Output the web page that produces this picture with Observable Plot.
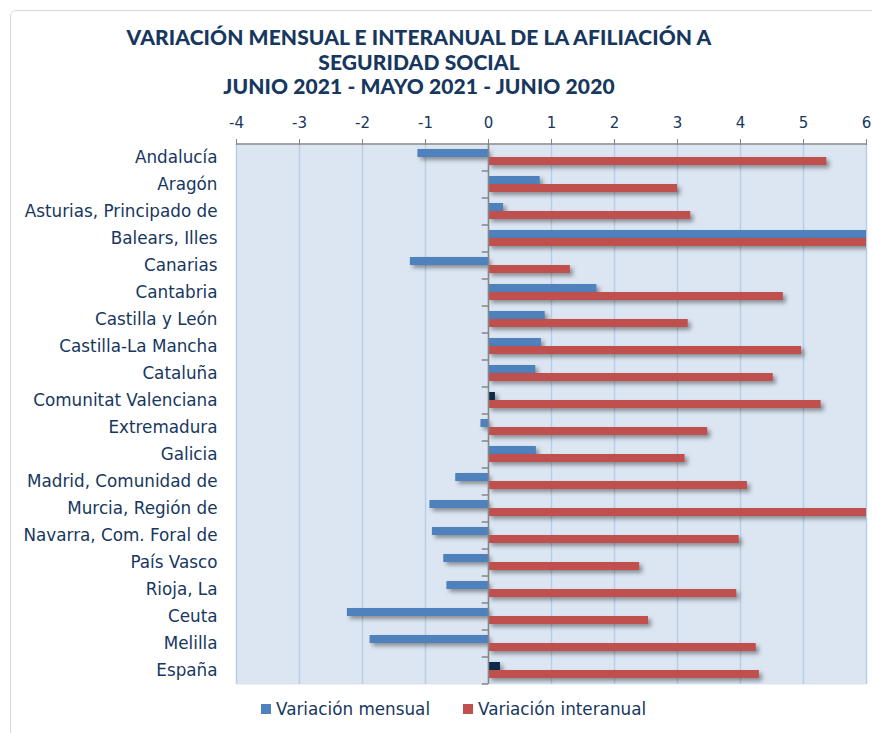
<!DOCTYPE html>
<html>
<head>
<meta charset="utf-8">
<script src="https://cdn.jsdelivr.net/npm/d3@7"></script>
<script src="https://cdn.jsdelivr.net/npm/@observablehq/plot@0.6"></script>
<style>
  html, body { margin: 0; padding: 0; background: #fff; }
  body { width: 872px; height: 733px; overflow: hidden; position: relative; font-family: "DejaVu Sans", sans-serif; }
  #frame { position: absolute; left: 10px; top: 10px; width: 900px; height: 800px; border: 1px solid #d9d9d9; border-radius: 6px; }
  #title { position: absolute; left: 0; top: 25px; width: 838px; text-align: center; font-family: Lato, "Open Sans", sans-serif; font-weight: 900; font-size: 21px; line-height: 24.5px; color: #17375e; letter-spacing: 0.1px; }
  #chart { position: absolute; left: 0; top: 100px; }
  #legend { position: absolute; left: 261px; top: 699px; display: flex; align-items: center; font-size: 16.8px; color: #17375e; white-space: nowrap; }
  #legend .sw { display: inline-block; width: 10px; height: 10px; margin-right: 5px; }
  #legend .item { display: flex; align-items: center; }
  g[aria-label="bar"] rect { filter: drop-shadow(3px 3px 2px rgba(0,0,0,0.38)); }
</style>
</head>
<body>
<div id="frame"></div>
<div id="title">VARIACIÓN MENSUAL E INTERANUAL DE LA AFILIACIÓN A<br>SEGURIDAD SOCIAL<br>JUNIO 2021 - MAYO 2021 - JUNIO 2020</div>
<div id="chart"></div>
<div id="legend">
  <span class="item"><span class="sw" style="background:#4f81bd"></span>Variación mensual</span>
  <span class="item" style="margin-left:33px"><span class="sw" style="background:#c0504d"></span>Variación interanual</span>
</div>
<script>
const categories = [
  "Andalucía", "Aragón", "Asturias, Principado de", "Balears, Illes", "Canarias",
  "Cantabria", "Castilla y León", "Castilla-La Mancha", "Cataluña", "Comunitat Valenciana",
  "Extremadura", "Galicia", "Madrid, Comunidad de", "Murcia, Región de", "Navarra, Com. Foral de",
  "País Vasco", "Rioja, La", "Ceuta", "Melilla", "España"
];
const mensual = [
  -1.12, 0.82, 0.24, 8.9, -1.24,
  1.72, 0.90, 0.84, 0.75, 0.11,
  -0.12, 0.76, -0.52, -0.93, -0.89,
  -0.71, -0.66, -2.24, -1.88, 0.19
];
const interanual = [
  5.37, 3.00, 3.21, 7.2, 1.30,
  4.68, 3.17, 4.97, 4.52, 5.28,
  3.48, 3.12, 4.11, 6.3, 3.98,
  2.40, 3.94, 2.54, 4.25, 4.30
];
const highlighted = ["Comunitat Valenciana", "España"];
const xTicks = [-4, -3, -2, -1, 0, 1, 2, 3, 4, 5, 6];
const seriesNames = ["Variación mensual", "Variación interanual"];

const rows = categories.map((c, i) => ({name: c, mensual: mensual[i], interanual: interanual[i]}));

const navy = "#17375e";
const axisGray = "#868686";

const chart = Plot.plot({
  width: 872,
  height: 590,
  marginLeft: 236,
  marginRight: 6,
  marginTop: 44,
  marginBottom: 6,
  style: {fontFamily: "DejaVu Sans, sans-serif", fontSize: "16px", color: navy, background: "transparent"},
  x: {domain: [-4, 6], label: null},
  y: {domain: categories, paddingInner: 0.407, paddingOuter: 0.2035, label: null},
  marks: [
    Plot.frame({fill: "#dce6f2", stroke: null}),
    Plot.ruleX(xTicks, {stroke: "#b9cde5", strokeWidth: 1.5}),
    Plot.barX(rows, {
      y: "name", x: "mensual",
      fill: d => highlighted.includes(d.name) ? "#0f2a47" : "#4f81bd",
      insetBottom: 8, clip: true
    }),
    Plot.barX(rows, {
      y: "name", x: "interanual",
      fill: "#c0504d",
      insetTop: 8, clip: true
    }),
    Plot.ruleX([0], {stroke: axisGray, strokeWidth: 1.5}),
    Plot.ruleY(categories, {y: d => d, x1: -0.1, x2: 0, dy: 13.5, stroke: axisGray, strokeWidth: 1.5}),
    Plot.ruleY([categories[0]], {y: d => d, dy: -13.5, stroke: axisGray, strokeWidth: 1.5}),
    Plot.axisX({anchor: "top", ticks: xTicks, tickFormat: d => d, tickSize: 6, tickPadding: 11,
      stroke: axisGray, fill: navy, fontSize: 15, fontFamily: "DejaVu Sans, sans-serif", label: null}),
    Plot.axisY({anchor: "left", tickSize: 0, tickPadding: 19, fill: navy, fontSize: 16.8, label: null})
  ]
});
document.getElementById("chart").appendChild(chart);
</script>
</body>
</html>
